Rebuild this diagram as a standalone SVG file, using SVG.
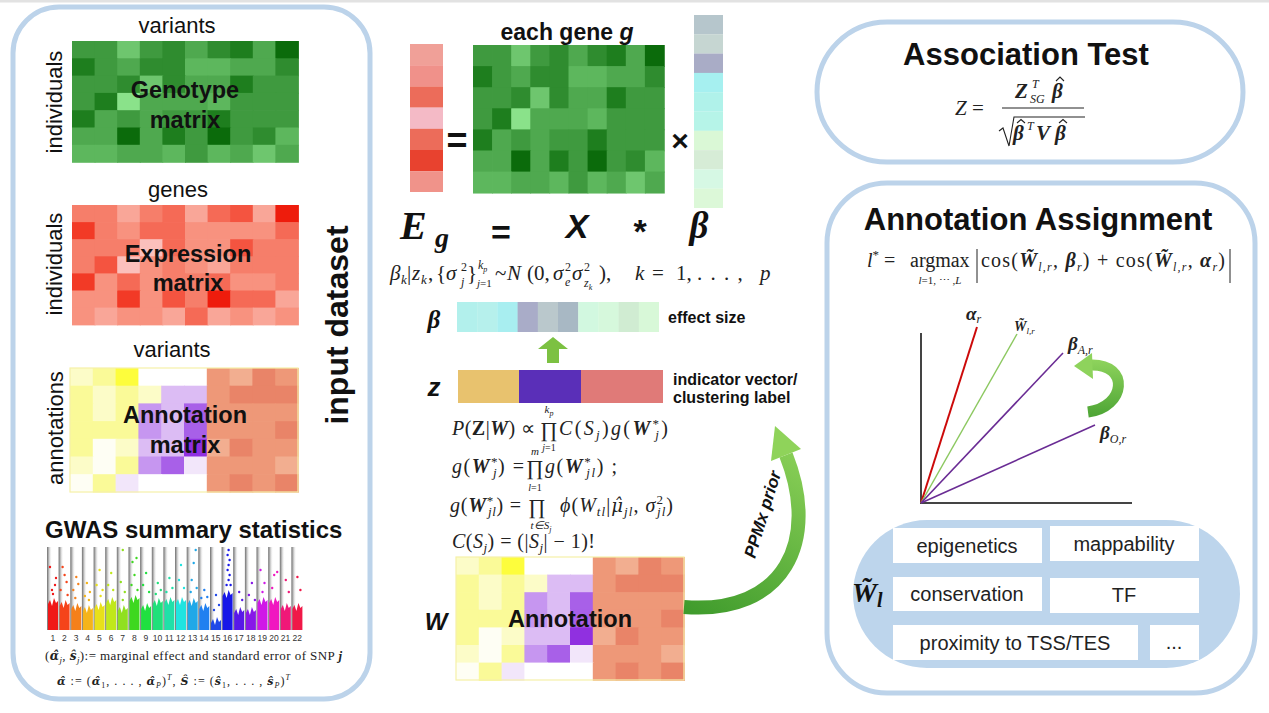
<svg xmlns="http://www.w3.org/2000/svg" width="1269" height="713" viewBox="0 0 1269 713">
<style>
.sans{font-family:'Liberation Sans',Arial,sans-serif}
.ser{font-family:'Liberation Serif','Times New Roman',serif}
.dj{font-family:'DejaVu Serif',serif}
.b{font-weight:bold}
.it{font-style:italic}
.panel{fill:none;stroke:#bcd3ea;stroke-width:5}
.c{width:1.04px;height:1.04px}
.g1{fill:#0b6b0b}.g2{fill:#1e7e1e}.g3{fill:#2f8c2f}.g4{fill:#3f9a3f}.g5{fill:#4fa94f}.g6{fill:#5db75d}.g7{fill:#6ec66e}.g8{fill:#8ae28a}
.r1{fill:#ee1c0c}.r2{fill:#f23a26}.r3{fill:#f45440}.r4{fill:#f56a56}.r5{fill:#f67e6a}.r6{fill:#f8927f}.r7{fill:#f9a698}.r8{fill:#fbc0bc}
.y0{fill:#fefef4}.y1{fill:#fcfcc8}.y2{fill:#fafa98}.y3{fill:#fdfd3c}
.p0{fill:#ffffff}.p1{fill:#f2e6fa}.p2{fill:#dcbcf4}.p3{fill:#c696f0}.p4{fill:#a860e8}.p5{fill:#9030e0}
.s1{fill:#f2ae90}.s2{fill:#ee9878}.s3{fill:#e98468}
.lbl{font-family:'Liberation Sans',Arial,sans-serif;font-size:22px;fill:#111}
.mat{font-family:'Liberation Sans',Arial,sans-serif;font-size:23.5px;font-weight:bold;fill:#111;text-anchor:middle}
.wb{fill:#ffffff}
.wt{font-family:'Liberation Sans',Arial,sans-serif;font-size:20px;fill:#222;text-anchor:middle}
.sep{fill:url(#sepg)}
.hat{fill:none;stroke:#222;stroke-width:1.1}
</style>
<defs>
<linearGradient id="sepg" x1="0" y1="0" x2="1" y2="0"><stop offset="0" stop-color="#6e6e6e"/><stop offset="0.35" stop-color="#b8b8b8"/><stop offset="1" stop-color="#ffffff" stop-opacity="0"/></linearGradient>
<linearGradient id="ppmx" gradientUnits="userSpaceOnUse" x1="684" y1="610" x2="790" y2="430"><stop offset="0" stop-color="#3f9b2c"/><stop offset="1" stop-color="#8fd35a"/></linearGradient>
<linearGradient id="rarr" gradientUnits="userSpaceOnUse" x1="1080" y1="415" x2="1080" y2="360"><stop offset="0" stop-color="#4fa636"/><stop offset="1" stop-color="#8ed35c"/></linearGradient>
<g id="geno">
<rect class="c g4" x="0" y="0"/><rect class="c g4" x="1" y="0"/><rect class="c g7" x="2" y="0"/><rect class="c g4" x="3" y="0"/><rect class="c g3" x="4" y="0"/><rect class="c g5" x="5" y="0"/><rect class="c g3" x="6" y="0"/><rect class="c g2" x="7" y="0"/><rect class="c g5" x="8" y="0"/><rect class="c g1" x="9" y="0"/>
<rect class="c g2" x="0" y="1"/><rect class="c g4" x="1" y="1"/><rect class="c g5" x="2" y="1"/><rect class="c g3" x="3" y="1"/><rect class="c g3" x="4" y="1"/><rect class="c g6" x="5" y="1"/><rect class="c g6" x="6" y="1"/><rect class="c g5" x="7" y="1"/><rect class="c g5" x="8" y="1"/><rect class="c g3" x="9" y="1"/>
<rect class="c g4" x="0" y="2"/><rect class="c g4" x="1" y="2"/><rect class="c g3" x="2" y="2"/><rect class="c g7" x="3" y="2"/><rect class="c g3" x="4" y="2"/><rect class="c g5" x="5" y="2"/><rect class="c g5" x="6" y="2"/><rect class="c g2" x="7" y="2"/><rect class="c g4" x="8" y="2"/><rect class="c g4" x="9" y="2"/>
<rect class="c g4" x="0" y="3"/><rect class="c g2" x="1" y="3"/><rect class="c g8" x="2" y="3"/><rect class="c g5" x="3" y="3"/><rect class="c g5" x="4" y="3"/><rect class="c g5" x="5" y="3"/><rect class="c g6" x="6" y="3"/><rect class="c g4" x="7" y="3"/><rect class="c g4" x="8" y="3"/><rect class="c g4" x="9" y="3"/>
<rect class="c g2" x="0" y="4"/><rect class="c g5" x="1" y="4"/><rect class="c g4" x="2" y="4"/><rect class="c g5" x="3" y="4"/><rect class="c g4" x="4" y="4"/><rect class="c g4" x="5" y="4"/><rect class="c g2" x="6" y="4"/><rect class="c g4" x="7" y="4"/><rect class="c g4" x="8" y="4"/><rect class="c g4" x="9" y="4"/>
<rect class="c g5" x="0" y="5"/><rect class="c g5" x="1" y="5"/><rect class="c g1" x="2" y="5"/><rect class="c g5" x="3" y="5"/><rect class="c g2" x="4" y="5"/><rect class="c g4" x="5" y="5"/><rect class="c g1" x="6" y="5"/><rect class="c g4" x="7" y="5"/><rect class="c g3" x="8" y="5"/><rect class="c g6" x="9" y="5"/>
<rect class="c g6" x="0" y="6"/><rect class="c g6" x="1" y="6"/><rect class="c g5" x="2" y="6"/><rect class="c g5" x="3" y="6"/><rect class="c g6" x="4" y="6"/><rect class="c g4" x="5" y="6"/><rect class="c g6" x="6" y="6"/><rect class="c g5" x="7" y="6"/><rect class="c g7" x="8" y="6"/><rect class="c g5" x="9" y="6"/>
</g>
<g id="expr">
<rect class="c r5" x="0" y="0"/><rect class="c r5" x="1" y="0"/><rect class="c r7" x="2" y="0"/><rect class="c r5" x="3" y="0"/><rect class="c r4" x="4" y="0"/><rect class="c r7" x="5" y="0"/><rect class="c r4" x="6" y="0"/><rect class="c r3" x="7" y="0"/><rect class="c r7" x="8" y="0"/><rect class="c r1" x="9" y="0"/>
<rect class="c r2" x="0" y="1"/><rect class="c r5" x="1" y="1"/><rect class="c r6" x="2" y="1"/><rect class="c r4" x="3" y="1"/><rect class="c r4" x="4" y="1"/><rect class="c r6" x="5" y="1"/><rect class="c r6" x="6" y="1"/><rect class="c r6" x="7" y="1"/><rect class="c r6" x="8" y="1"/><rect class="c r4" x="9" y="1"/>
<rect class="c r5" x="0" y="2"/><rect class="c r5" x="1" y="2"/><rect class="c r5" x="2" y="2"/><rect class="c r8" x="3" y="2"/><rect class="c r4" x="4" y="2"/><rect class="c r6" x="5" y="2"/><rect class="c r6" x="6" y="2"/><rect class="c r3" x="7" y="2"/><rect class="c r5" x="8" y="2"/><rect class="c r5" x="9" y="2"/>
<rect class="c r5" x="0" y="3"/><rect class="c r3" x="1" y="3"/><rect class="c r8" x="2" y="3"/><rect class="c r6" x="3" y="3"/><rect class="c r5" x="4" y="3"/><rect class="c r6" x="5" y="3"/><rect class="c r7" x="6" y="3"/><rect class="c r5" x="7" y="3"/><rect class="c r5" x="8" y="3"/><rect class="c r5" x="9" y="3"/>
<rect class="c r2" x="0" y="4"/><rect class="c r6" x="1" y="4"/><rect class="c r4" x="2" y="4"/><rect class="c r6" x="3" y="4"/><rect class="c r5" x="4" y="4"/><rect class="c r5" x="5" y="4"/><rect class="c r4" x="6" y="4"/><rect class="c r6" x="7" y="4"/><rect class="c r6" x="8" y="4"/><rect class="c r5" x="9" y="4"/>
<rect class="c r6" x="0" y="5"/><rect class="c r6" x="1" y="5"/><rect class="c r2" x="2" y="5"/><rect class="c r6" x="3" y="5"/><rect class="c r3" x="4" y="5"/><rect class="c r5" x="5" y="5"/><rect class="c r1" x="6" y="5"/><rect class="c r4" x="7" y="5"/><rect class="c r4" x="8" y="5"/><rect class="c r7" x="9" y="5"/>
<rect class="c r6" x="0" y="6"/><rect class="c r7" x="1" y="6"/><rect class="c r6" x="2" y="6"/><rect class="c r6" x="3" y="6"/><rect class="c r7" x="4" y="6"/><rect class="c r4" x="5" y="6"/><rect class="c r7" x="6" y="6"/><rect class="c r6" x="7" y="6"/><rect class="c r7" x="8" y="6"/><rect class="c r6" x="9" y="6"/>
</g>
<g id="annot">
<rect class="c y1" x="0" y="0"/><rect class="c y2" x="1" y="0"/><rect class="c y3" x="2" y="0"/><rect class="c p0" x="3" y="0"/><rect class="c p0" x="4" y="0"/><rect class="c p0" x="5" y="0"/><rect class="c s2" x="6" y="0"/><rect class="c s1" x="7" y="0"/><rect class="c s3" x="8" y="0"/><rect class="c s2" x="9" y="0"/>
<rect class="c y2" x="0" y="1"/><rect class="c y1" x="1" y="1"/><rect class="c y2" x="2" y="1"/><rect class="c y1" x="3" y="1"/><rect class="c p2" x="4" y="1"/><rect class="c p2" x="5" y="1"/><rect class="c s2" x="6" y="1"/><rect class="c s3" x="7" y="1"/><rect class="c s3" x="8" y="1"/><rect class="c s3" x="9" y="1"/>
<rect class="c y2" x="0" y="2"/><rect class="c y1" x="1" y="2"/><rect class="c y2" x="2" y="2"/><rect class="c p3" x="3" y="2"/><rect class="c p2" x="4" y="2"/><rect class="c p4" x="5" y="2"/><rect class="c s2" x="6" y="2"/><rect class="c s2" x="7" y="2"/><rect class="c s2" x="8" y="2"/><rect class="c s2" x="9" y="2"/>
<rect class="c y2" x="0" y="3"/><rect class="c y2" x="1" y="3"/><rect class="c y2" x="2" y="3"/><rect class="c p3" x="3" y="3"/><rect class="c p2" x="4" y="3"/><rect class="c p4" x="5" y="3"/><rect class="c s2" x="6" y="3"/><rect class="c s2" x="7" y="3"/><rect class="c s2" x="8" y="3"/><rect class="c s3" x="9" y="3"/>
<rect class="c y2" x="0" y="4"/><rect class="c y0" x="1" y="4"/><rect class="c y1" x="2" y="4"/><rect class="c p2" x="3" y="4"/><rect class="c p2" x="4" y="4"/><rect class="c p5" x="5" y="4"/><rect class="c s1" x="6" y="4"/><rect class="c s3" x="7" y="4"/><rect class="c s2" x="8" y="4"/><rect class="c s2" x="9" y="4"/>
<rect class="c y1" x="0" y="5"/><rect class="c y0" x="1" y="5"/><rect class="c y2" x="2" y="5"/><rect class="c p3" x="3" y="5"/><rect class="c p4" x="4" y="5"/><rect class="c p1" x="5" y="5"/><rect class="c s2" x="6" y="5"/><rect class="c s2" x="7" y="5"/><rect class="c s2" x="8" y="5"/><rect class="c s1" x="9" y="5"/>
<rect class="c y0" x="0" y="6"/><rect class="c y2" x="1" y="6"/><rect class="c p1" x="2" y="6"/><rect class="c p0" x="3" y="6"/><rect class="c p0" x="4" y="6"/><rect class="c p0" x="5" y="6"/><rect class="c s2" x="6" y="6"/><rect class="c s3" x="7" y="6"/><rect class="c s2" x="8" y="6"/><rect class="c s3" x="9" y="6"/>
</g>
</defs>

<rect x="0" y="0" width="1269" height="713" fill="#ffffff"/>
<rect x="0" y="0" width="1269" height="2.5" fill="#e2e2e2"/>

<!-- LEFT PANEL: input dataset -->
<g id="input-dataset">
<rect class="panel" x="13" y="7" width="357" height="692" rx="46"/>
<text class="sans b" x="348" y="325" font-size="32" text-anchor="middle" transform="rotate(-90 348 325)" fill="#111">input dataset</text>
</g>

<g id="genotype-matrix">
<text class="lbl" x="177" y="33" text-anchor="middle">variants</text>
<text class="lbl" x="62" y="102" text-anchor="middle" transform="rotate(-90 62 102)">individuals</text>
<use href="#geno" transform="translate(72,41) scale(22.6,17.3)"/>
<text class="mat" x="185" y="98">Genotype</text>
<text class="mat" x="185" y="128">matrix</text>
</g>

<g id="expression-matrix">
<text class="lbl" x="178" y="197" text-anchor="middle">genes</text>
<text class="lbl" x="62" y="264" text-anchor="middle" transform="rotate(-90 62 264)">individuals</text>
<use href="#expr" transform="translate(72,205) scale(22.6,17.1)"/>
<text class="mat" x="188" y="262">Expression</text>
<text class="mat" x="188" y="291">matrix</text>
</g>

<g id="annotation-matrix">
<text class="lbl" x="172" y="357" text-anchor="middle">variants</text>
<text class="lbl" x="63" y="428" text-anchor="middle" transform="rotate(-90 63 428)">annotations</text>
<use href="#annot" transform="translate(70,368) scale(22.8,17.7)"/>
<rect x="70" y="368" width="228" height="124" fill="none" stroke="#f6f0a8" stroke-width="1.2"/>
<text class="mat" x="185" y="423">Annotation</text>
<text class="mat" x="185" y="453">matrix</text>
</g>

<g id="gwas">
<text class="sans b" x="45" y="538" font-size="24" fill="#111">GWAS summary statistics</text>
<g id="manhattan">
<rect class="sep" x="47" y="547" width="5" height="83"/><rect class="sep" x="58.6" y="547" width="5" height="83"/><rect class="sep" x="70.3" y="547" width="5" height="83"/><rect class="sep" x="81.9" y="547" width="5" height="83"/><rect class="sep" x="93.6" y="547" width="5" height="83"/><rect class="sep" x="105.2" y="547" width="5" height="83"/><rect class="sep" x="116.8" y="547" width="5" height="83"/><rect class="sep" x="128.5" y="547" width="5" height="83"/><rect class="sep" x="140.1" y="547" width="5" height="83"/><rect class="sep" x="151.8" y="547" width="5" height="83"/><rect class="sep" x="163.4" y="547" width="5" height="83"/><rect class="sep" x="175" y="547" width="5" height="83"/><rect class="sep" x="186.7" y="547" width="5" height="83"/><rect class="sep" x="198.3" y="547" width="5" height="83"/><rect class="sep" x="210" y="547" width="5" height="83"/><rect class="sep" x="221.6" y="547" width="5" height="83"/><rect class="sep" x="233.2" y="547" width="5" height="83"/><rect class="sep" x="244.9" y="547" width="5" height="83"/><rect class="sep" x="256.5" y="547" width="5" height="83"/><rect class="sep" x="268.2" y="547" width="5" height="83"/><rect class="sep" x="279.8" y="547" width="5" height="83"/><rect class="sep" x="291.4" y="547" width="5" height="83"/>
<g fill="#f01818"><polygon points="48,630 48,604 50,600 52,606 54,598 56,603 58,601 58,630"/><circle cx="50" cy="567" r="1.2"/><circle cx="55" cy="585" r="1.2"/><circle cx="52" cy="590" r="1.2"/><circle cx="56" cy="578" r="1.2"/><circle cx="53" cy="594" r="1.2"/></g>
<g fill="#f5441a"><polygon points="59.6,630 59.6,606 61.6,602 63.6,608 65.6,600 67.6,605 69.6,603 69.6,630"/><circle cx="62.6" cy="567" r="1.2"/><circle cx="66.6" cy="582" r="1.2"/><circle cx="60.6" cy="590" r="1.2"/><circle cx="64.6" cy="575" r="1.2"/><circle cx="67.6" cy="595" r="1.2"/></g>
<g fill="#f5801a"><polygon points="71.3,630 71.3,609 73.3,605 75.3,611 77.3,603 79.3,608 81.3,606 81.3,630"/><circle cx="76.3" cy="577" r="1.2"/><circle cx="73.3" cy="590" r="1.2"/><circle cx="78.3" cy="584" r="1.2"/><circle cx="75.3" cy="598" r="1.2"/></g>
<g fill="#f5b41a"><polygon points="82.9,630 82.9,611 84.9,607 86.9,613 88.9,605 90.9,610 92.9,608 92.9,630"/><circle cx="86.9" cy="583" r="1.2"/><circle cx="89.9" cy="592" r="1.2"/><circle cx="84.9" cy="596" r="1.2"/><circle cx="88.9" cy="600" r="1.2"/></g>
<g fill="#e8e01a"><polygon points="94.6,630 94.6,608 96.6,604 98.6,610 100.6,602 102.6,607 104.6,605 104.6,630"/><circle cx="99.6" cy="570" r="1.2"/><circle cx="96.6" cy="585" r="1.2"/><circle cx="102.6" cy="590" r="1.2"/><circle cx="100.6" cy="596" r="1.2"/></g>
<g fill="#c0e81a"><polygon points="106.2,630 106.2,603 108.2,599 110.2,605 112.2,597 114.2,602 116.2,600 116.2,630"/><circle cx="111.2" cy="573" r="1.2"/><circle cx="108.2" cy="585" r="1.2"/><circle cx="113.2" cy="590" r="1.2"/></g>
<g fill="#90e020"><polygon points="117.8,630 117.8,611 119.8,607 121.8,613 123.8,605 125.8,610 127.8,608 127.8,630"/><circle cx="122.8" cy="550" r="1.2"/><circle cx="120.8" cy="582" r="1.2"/><circle cx="124.8" cy="592" r="1.2"/><circle cx="122.8" cy="600" r="1.2"/></g>
<g fill="#3ed820"><polygon points="129.5,630 129.5,601 131.5,597 133.5,603 135.5,595 137.5,600 139.5,598 139.5,630"/><circle cx="136.5" cy="558" r="1.2"/><circle cx="132.5" cy="562" r="1.2"/><circle cx="134.5" cy="575" r="1.2"/><circle cx="131.5" cy="585" r="1.2"/><circle cx="137.5" cy="590" r="1.2"/></g>
<g fill="#20e040"><polygon points="141.1,630 141.1,609 143.1,605 145.1,611 147.1,603 149.1,608 151.1,606 151.1,630"/><circle cx="146.1" cy="573" r="1.2"/><circle cx="143.1" cy="585" r="1.2"/><circle cx="149.1" cy="592" r="1.2"/></g>
<g fill="#20e07a"><polygon points="152.8,630 152.8,604 154.8,600 156.8,606 158.8,598 160.8,603 162.8,601 162.8,630"/><circle cx="157.8" cy="583" r="1.2"/><circle cx="160.8" cy="590" r="1.2"/><circle cx="155.8" cy="594" r="1.2"/></g>
<g fill="#20e0a8"><polygon points="164.4,630 164.4,603 166.4,599 168.4,605 170.4,597 172.4,602 174.4,600 174.4,630"/><circle cx="169.4" cy="578" r="1.2"/><circle cx="172.4" cy="588" r="1.2"/><circle cx="166.4" cy="592" r="1.2"/></g>
<g fill="#20e4e0"><polygon points="176,630 176,603 178,599 180,605 182,597 184,602 186,600 186,630"/><circle cx="181" cy="565" r="1.2"/><circle cx="179" cy="580" r="1.2"/><circle cx="184" cy="588" r="1.2"/></g>
<g fill="#20a8e8"><polygon points="187.7,630 187.7,604 189.7,600 191.7,606 193.7,598 195.7,603 197.7,601 197.7,630"/><circle cx="195.7" cy="550" r="1.2"/><circle cx="193.7" cy="563" r="1.2"/><circle cx="191.7" cy="580" r="1.2"/><circle cx="196.7" cy="588" r="1.2"/><circle cx="190.7" cy="592" r="1.2"/></g>
<g fill="#2080f0"><polygon points="199.3,630 199.3,609 201.3,605 203.3,611 205.3,603 207.3,608 209.3,606 209.3,630"/><circle cx="204.3" cy="590" r="1.2"/><circle cx="207.3" cy="597" r="1.2"/><circle cx="201.3" cy="598" r="1.2"/></g>
<g fill="#2048e8"><polygon points="211,630 211,623 213,619 215,625 217,617 219,622 221,620 221,630"/><circle cx="216" cy="595" r="1.2"/><circle cx="219" cy="605" r="1.2"/><circle cx="214" cy="610" r="1.2"/></g>
<g fill="#1818e8"><polygon points="222.6,630 222.6,596 224.6,592 226.6,598 228.6,590 230.6,595 232.6,593 232.6,630"/><circle cx="228.6" cy="550" r="1.2"/><circle cx="227.6" cy="555" r="1.2"/><circle cx="229.6" cy="560" r="1.2"/><circle cx="228.6" cy="565" r="1.2"/><circle cx="227.6" cy="570" r="1.2"/><circle cx="229.6" cy="575" r="1.2"/><circle cx="228.6" cy="580" r="1.2"/><circle cx="226.6" cy="585" r="1.2"/><circle cx="230.6" cy="585" r="1.2"/></g>
<g fill="#5818e8"><polygon points="234.2,630 234.2,613 236.2,609 238.2,615 240.2,607 242.2,612 244.2,610 244.2,630"/><circle cx="239.2" cy="592" r="1.2"/><circle cx="242.2" cy="600" r="1.2"/></g>
<g fill="#8818e8"><polygon points="245.9,630 245.9,613 247.9,609 249.9,615 251.9,607 253.9,612 255.9,610 255.9,630"/><circle cx="251.9" cy="583" r="1.2"/><circle cx="248.9" cy="595" r="1.2"/><circle cx="254.9" cy="600" r="1.2"/></g>
<g fill="#d018e8"><polygon points="257.5,630 257.5,603 259.5,599 261.5,605 263.5,597 265.5,602 267.5,600 267.5,630"/><circle cx="260.5" cy="570" r="1.2"/><circle cx="264.5" cy="583" r="1.2"/><circle cx="262.5" cy="592" r="1.2"/></g>
<g fill="#f018c0"><polygon points="269.2,630 269.2,603 271.2,599 273.2,605 275.2,597 277.2,602 279.2,600 279.2,630"/><circle cx="274.2" cy="575" r="1.2"/><circle cx="277.2" cy="572" r="1.2"/><circle cx="272.2" cy="588" r="1.2"/></g>
<g fill="#f01878"><polygon points="280.8,630 280.8,609 282.8,605 284.8,611 286.8,603 288.8,608 290.8,606 290.8,630"/><circle cx="285.8" cy="580" r="1.2"/><circle cx="288.8" cy="592" r="1.2"/></g>
<g fill="#f01848"><polygon points="292.4,630 292.4,609 294.4,605 296.4,611 298.4,603 300.4,608 302.4,606 302.4,630"/><circle cx="297.4" cy="577" r="1.2"/><circle cx="300.4" cy="590" r="1.2"/></g>
<g class="sans" font-size="8.5" fill="#333" text-anchor="middle">
<text x="52.8" y="641">1</text><text x="64.4" y="641">2</text><text x="76.1" y="641">3</text><text x="87.7" y="641">4</text><text x="99.4" y="641">5</text><text x="111" y="641">6</text><text x="122.6" y="641">7</text><text x="134.3" y="641">8</text><text x="145.9" y="641">9</text><text x="157.6" y="641">10</text><text x="169.2" y="641">11</text><text x="180.8" y="641">12</text><text x="192.5" y="641">13</text><text x="204.1" y="641">14</text><text x="215.8" y="641">15</text><text x="227.4" y="641">16</text><text x="239" y="641">17</text><text x="250.7" y="641">18</text><text x="262.3" y="641">19</text><text x="274" y="641">20</text><text x="285.6" y="641">21</text><text x="297.2" y="641">22</text>
</g>
</g>
<text class="ser" x="45" y="660" font-size="13" fill="#222" textLength="297" lengthAdjust="spacing">(<tspan class="dj b it" font-size="12">α̂</tspan><tspan font-size="9" dy="3" class="it">j</tspan><tspan dy="-3">, </tspan><tspan class="dj b it" font-size="12">ŝ</tspan><tspan font-size="9" dy="3" class="it">j</tspan><tspan dy="-3">):= marginal effect and standard error of SNP </tspan><tspan class="b it">j</tspan></text>
<text class="ser" x="57" y="685" font-size="12" fill="#222" textLength="233" lengthAdjust="spacing"><tspan class="dj b it" font-size="11">α̂</tspan> := (<tspan class="dj b it" font-size="11">α̂</tspan><tspan font-size="8" dy="3">1</tspan><tspan dy="-3">, . . . , </tspan><tspan class="dj b it" font-size="11">α̂</tspan><tspan font-size="8" dy="3" class="it">P</tspan><tspan dy="-3">)</tspan><tspan font-size="8" dy="-5" class="it">T</tspan><tspan dy="5">,  </tspan><tspan class="dj b it" font-size="11">Ŝ</tspan> := (<tspan class="dj b it" font-size="11">ŝ</tspan><tspan font-size="8" dy="3">1</tspan><tspan dy="-3">, . . . , </tspan><tspan class="dj b it" font-size="11">ŝ</tspan><tspan font-size="8" dy="3" class="it">P</tspan><tspan dy="-3">)</tspan><tspan font-size="8" dy="-5" class="it">T</tspan></text>
</g>

<!-- MIDDLE: model -->
<g id="expression-vector">
<rect x="410" y="44" width="33" height="21.3" fill="#f0a098"/>
<rect x="410" y="65.2" width="33" height="21.3" fill="#f0918a"/>
<rect x="410" y="86.4" width="33" height="21.3" fill="#ec6c5a"/>
<rect x="410" y="107.6" width="33" height="21.3" fill="#f4bac6"/>
<rect x="410" y="128.8" width="33" height="21.3" fill="#ec6c5a"/>
<rect x="410" y="150" width="33" height="21.3" fill="#e8422f"/>
<rect x="410" y="171.2" width="33" height="20.8" fill="#f0938a"/>
</g>
<g id="genotype-X">
<text class="sans b" x="567" y="40" font-size="23" text-anchor="middle" fill="#111">each gene <tspan class="it">g</tspan></text>
<use href="#geno" transform="translate(473,45) scale(19.1,21.1)"/>
</g>
<g id="effect-vector">
<rect x="694" y="15" width="29" height="19.4" fill="#b6c6cc"/>
<rect x="694" y="34.3" width="29" height="19.4" fill="#c6d6d2"/>
<rect x="694" y="53.6" width="29" height="19.4" fill="#a9acc6"/>
<rect x="694" y="72.9" width="29" height="19.4" fill="#a6f0f0"/>
<rect x="694" y="92.2" width="29" height="19.4" fill="#b0f2ea"/>
<rect x="694" y="111.5" width="29" height="19.4" fill="#b6f4e8"/>
<rect x="694" y="130.8" width="29" height="19.4" fill="#daf8d6"/>
<rect x="694" y="150.1" width="29" height="19.4" fill="#d6ecd6"/>
<rect x="694" y="169.4" width="29" height="19.4" fill="#d6f8e4"/>
<rect x="694" y="188.7" width="29" height="19.3" fill="#dcf8d8"/>
</g>
<g id="equation">
<text class="sans b" x="457" y="153" font-size="36" text-anchor="middle" fill="#111">=</text>
<text class="sans b" x="680" y="151" font-size="30" text-anchor="middle" fill="#111">×</text>
<text class="ser b it" x="400" y="239" font-size="40" fill="#111">E</text>
<text class="ser b it" x="435" y="247" font-size="28" fill="#111">g</text>
<text class="sans b" x="501" y="244" font-size="34" text-anchor="middle" fill="#111">=</text>
<text class="sans b it" x="577" y="238" font-size="34" text-anchor="middle" fill="#111">X</text>
<text class="sans b" x="640" y="243" font-size="34" text-anchor="middle" fill="#111">*</text>
<text class="ser b it" x="699" y="238" font-size="37" text-anchor="middle" fill="#111">β</text>
<g class="ser" fill="#222" font-size="21">
<text x="390" y="280" class="it">β</text>
<text x="401" y="284" font-size="13" class="it">k</text>
<text x="407" y="280">|</text><text x="412" y="280" class="it">z</text>
<text x="421" y="284" font-size="13" class="it">k</text>
<text x="428" y="280">,</text>
<text x="436" y="280">{</text>
<text x="446" y="280" class="it">σ</text>
<text x="461" y="271" font-size="12">2</text><text x="461" y="286" font-size="12" class="it">j</text>
<text x="467" y="280">}</text>
<text x="478" y="269" font-size="12" class="it">k<tspan font-size="8" dy="3">p</tspan></text>
<text x="477" y="287" font-size="11"><tspan class="it">j</tspan>=1</text>
<text x="495" y="280">~</text>
<text x="507" y="280" class="it">N</text>
<text x="527" y="280">(0,</text>
<text x="553" y="280" class="it">σ</text>
<text x="565" y="271" font-size="12">2</text><text x="565" y="286" font-size="12" class="it">e</text>
<text x="572" y="280" class="it">σ</text>
<text x="584" y="271" font-size="12">2</text><text x="584" y="287" font-size="12" class="it">z<tspan font-size="8" dy="3">k</tspan></text>
<text x="599" y="280">),</text>
<text x="635" y="280" class="it">k</text>
<text x="652" y="280">=</text>
<text x="676" y="280">1,</text>
<text x="697" y="280" letter-spacing="1.5">. . . ,</text>
<text x="760" y="280" class="it">p</text>
</g>
</g>

<g id="beta-bar">
<text class="ser b it" x="434" y="328" font-size="25" text-anchor="middle" fill="#111">β</text>
<rect x="457" y="302" width="20.5" height="30" fill="#b2f0ec"/>
<rect x="477.2" y="302" width="20.5" height="30" fill="#b6f0ec"/>
<rect x="497.4" y="302" width="20.5" height="30" fill="#a8eef0"/>
<rect x="517.6" y="302" width="20.5" height="30" fill="#a9acc8"/>
<rect x="537.8" y="302" width="20.5" height="30" fill="#bac8cc"/>
<rect x="558" y="302" width="20.5" height="30" fill="#a8b8c4"/>
<rect x="578.2" y="302" width="20.5" height="30" fill="#d2f8e0"/>
<rect x="598.4" y="302" width="20.5" height="30" fill="#d6f8dc"/>
<rect x="618.6" y="302" width="20.5" height="30" fill="#d0ecd2"/>
<rect x="638.8" y="302" width="20.2" height="30" fill="#d8f8d8"/>
<text class="sans b" x="668" y="323" font-size="16" fill="#111">effect size</text>
</g>

<g id="z-bar">
<text class="sans b it" x="434" y="396" font-size="26" text-anchor="middle" fill="#111">z</text>
<rect x="458" y="370" width="61.5" height="33" fill="#e8c26e"/>
<rect x="519" y="370" width="62.5" height="33" fill="#5a2fb8"/>
<rect x="581" y="370" width="82" height="33" fill="#e07a78"/>
<text class="sans b" x="673" y="385" font-size="16" fill="#111">indicator vector/</text>
<text class="sans b" x="673" y="403" font-size="16" fill="#111">clustering label</text>
</g>

<g id="ppmx-formulas" class="ser" fill="#222" font-size="20">
<text x="452" y="435" textLength="83" lengthAdjust="spacing"><tspan class="it">P</tspan>(<tspan font-weight="bold">Z</tspan>|<tspan class="b it">W</tspan>) ∝</text>
<text x="549" y="437" font-size="21" text-anchor="middle">∏</text>
<text x="549" y="413" font-size="11" text-anchor="middle" class="it">k<tspan font-size="8" dy="3">p</tspan></text>
<text x="549" y="451" font-size="10" text-anchor="middle"><tspan class="it">j</tspan>=1</text>
<text x="559" y="435" textLength="109" lengthAdjust="spacing"><tspan class="it">C</tspan>(<tspan class="it">S</tspan><tspan class="it" font-size="13" dy="4">j</tspan><tspan dy="-4">)</tspan><tspan class="it">g</tspan>(<tspan class="b it">W</tspan><tspan font-size="13" dy="-7">*</tspan><tspan font-size="13" class="it" dx="-6" dy="11">j</tspan><tspan dy="-4">)</tspan></text>

<text x="452" y="473" textLength="72" lengthAdjust="spacing"><tspan class="it">g</tspan>(<tspan class="b it">W</tspan><tspan font-size="13" dy="-7">*</tspan><tspan font-size="13" class="it" dx="-6" dy="11">j</tspan><tspan dy="-4">) =</tspan></text>
<text x="535" y="475" font-size="21" text-anchor="middle">∏</text>
<text x="535" y="455" font-size="11" text-anchor="middle" class="it">m</text>
<text x="535" y="491" font-size="10" text-anchor="middle"><tspan class="it">l</tspan>=1</text>
<text x="545" y="473" textLength="72" lengthAdjust="spacing"><tspan class="it">g</tspan>(<tspan class="b it">W</tspan><tspan font-size="13" dy="-7">*</tspan><tspan font-size="13" class="it" dx="-6" dy="11">jl</tspan><tspan dy="-4">) ;</tspan></text>

<text x="450" y="512" textLength="71" lengthAdjust="spacing"><tspan class="it">g</tspan>(<tspan class="b it">W</tspan><tspan font-size="13" dy="-7">*</tspan><tspan font-size="13" class="it" dx="-6" dy="11">jl</tspan><tspan dy="-4">) =</tspan></text>
<text x="537" y="514" font-size="21" text-anchor="middle">∏</text>
<text x="541" y="529" font-size="11" text-anchor="middle" class="it">t∈S<tspan font-size="8" dy="3">j</tspan></text>
<text x="560" y="512" textLength="113" lengthAdjust="spacing"><tspan class="it">ϕ</tspan>(<tspan class="it">W</tspan><tspan font-size="13" class="it" dy="4">tl</tspan><tspan dy="-4">|</tspan><tspan class="dj it" font-size="18">μ̂</tspan><tspan font-size="13" class="it" dy="4">jl</tspan><tspan dy="-4">, </tspan><tspan class="it">σ</tspan><tspan font-size="13" dy="-8">2</tspan><tspan font-size="13" class="it" dx="-7" dy="12">jl</tspan><tspan dy="-4">)</tspan></text>

<text x="452" y="548" textLength="143" lengthAdjust="spacing"><tspan class="it">C</tspan>(<tspan class="it">S</tspan><tspan class="it" font-size="13" dy="4">j</tspan><tspan dy="-4">) = (|</tspan><tspan class="it">S</tspan><tspan class="it" font-size="13" dy="4">j</tspan><tspan dy="-4">| − 1)!</tspan></text>
</g>

<g id="annotation-W">
<text class="sans b it" x="436" y="630" font-size="24" text-anchor="middle" fill="#111">W</text>
<use href="#annot" transform="translate(456,557) scale(22.8,17.6)"/>
<rect x="456" y="557" width="228" height="123" fill="none" stroke="#f6f0a8" stroke-width="1.2"/>
<text class="mat" x="570" y="627">Annotation</text>
</g>

<!-- RIGHT: association test -->
<g id="association-test">
<rect class="panel" x="817" y="22" width="426" height="140" rx="70"/>
<text class="sans b" x="1026" y="65" font-size="31" text-anchor="middle" fill="#111">Association Test</text>
<g class="ser" fill="#222" font-size="21">
<text x="955" y="115"><tspan class="it">Z</tspan> =</text>
<text x="1015" y="98" class="b it">Z</text>
<text x="1032" y="88" font-size="12" class="it">T</text>
<text x="1030" y="103" font-size="12" class="it">SG</text>
<text x="1052" y="98" class="b it">β</text>
<path class="hat" d="M1056,81 L1060,77 L1064,81"/>
<line x1="1002" y1="108" x2="1084" y2="108" stroke="#222" stroke-width="1"/>
<path d="M999,131 L1003,128 L1009,146 L1014,117 L1085,117" fill="none" stroke="#222" stroke-width="1.1"/>
<text x="1013" y="140" class="b it">β</text>
<path class="hat" d="M1017,123 L1021,119.5 L1025,123"/>
<text x="1027" y="130" font-size="12" class="it">T</text>
<text x="1036" y="140" class="b it">V</text>
<text x="1055" y="140" class="b it">β</text>
<path class="hat" d="M1059,123 L1063,119.5 L1067,123"/>
</g>
</g>

<!-- RIGHT: annotation assignment -->
<g id="annotation-assignment">
<rect class="panel" x="827" y="183" width="428" height="510" rx="60"/>
<text class="sans b" x="1038" y="230" font-size="31" text-anchor="middle" fill="#111">Annotation Assignment</text>
<g class="ser" fill="#222" font-size="20">
<text x="867" y="267"><tspan class="it">l</tspan><tspan font-size="13" dy="-8">*</tspan><tspan dy="8"> = </tspan></text>
<text x="910" y="267">argmax</text>
<text x="940" y="284" font-size="11" text-anchor="middle"><tspan class="it">l</tspan>=1, ⋯ ,<tspan class="it">L</tspan></text>
<line x1="977" y1="249" x2="977" y2="283" stroke="#222" stroke-width="1"/>
<text x="981" y="267" textLength="244" lengthAdjust="spacing">cos(<tspan class="b it">W̃</tspan><tspan font-size="12" class="it" dy="4">l,r</tspan><tspan dy="-4">, </tspan><tspan class="b it">β</tspan><tspan font-size="12" class="it" dy="4">r</tspan><tspan dy="-4">) + cos(</tspan><tspan class="b it">W̃</tspan><tspan font-size="12" class="it" dy="4">l,r</tspan><tspan dy="-4">, </tspan><tspan class="b it">α</tspan><tspan font-size="12" class="it" dy="4">r</tspan><tspan dy="-4">)</tspan></text>
<line x1="1230" y1="249" x2="1230" y2="283" stroke="#222" stroke-width="1"/>
</g>
<g id="vector-plot">
<line x1="921" y1="333" x2="921" y2="503" stroke="#444" stroke-width="2"/>
<line x1="920" y1="503" x2="1132" y2="503" stroke="#444" stroke-width="2"/>
<line x1="921" y1="503" x2="977" y2="327" stroke="#cc0a0a" stroke-width="2"/>
<line x1="921" y1="503" x2="1017" y2="334" stroke="#8cc860" stroke-width="1.5"/>
<line x1="921" y1="503" x2="1063" y2="353" stroke="#6a2c94" stroke-width="1.6"/>
<line x1="921" y1="503" x2="1095" y2="425" stroke="#6a2c94" stroke-width="1.6"/>
<g class="ser" fill="#222">
<text x="966" y="320" font-size="19" class="b it">α<tspan font-size="12" dy="3" font-weight="normal">r</tspan></text>
<text x="1014" y="331" font-size="14" class="b it">W̃<tspan font-size="9" dy="3" font-weight="normal">l,r</tspan></text>
<text x="1068" y="350" font-size="19" class="b it">β<tspan font-size="12" dy="4" font-weight="normal">A,r</tspan></text>
<text x="1100" y="439" font-size="19" class="b it">β<tspan font-size="12" dy="4" font-weight="normal">O,r</tspan></text>
</g>
</g>
</g>

<g id="annotation-sources">
<rect x="853" y="520" width="387" height="148" rx="74" fill="#bdd5ec"/>
<text class="ser b it" x="852" y="602" font-size="28" fill="#111">W̃<tspan font-size="20" dy="5">l</tspan></text>
<rect class="wb" x="893" y="528" width="149" height="35"/>
<text class="wt" x="967" y="553">epigenetics</text>
<rect class="wb" x="1050" y="526" width="149" height="35"/>
<text class="wt" x="1124" y="551">mappability</text>
<rect class="wb" x="893" y="577" width="149" height="34"/>
<text class="wt" x="967" y="601">conservation</text>
<rect class="wb" x="1050" y="578" width="149" height="35"/>
<text class="wt" x="1124" y="602">TF</text>
<rect class="wb" x="893" y="625" width="245" height="35"/>
<text class="wt" x="1015" y="650">proximity to TSS/TES</text>
<rect class="wb" x="1150" y="625" width="49" height="35"/>
<text class="wt" x="1174" y="649">...</text>
</g>

<!-- CONNECTORS -->
<g id="connectors">
<polygon points="553,337 538,349 547,349 547,363 559,363 559,349 568,349" fill="#7cc142"/>
<path d="M684,607 C785,615 820,540 786,455" fill="none" stroke="url(#ppmx)" stroke-width="14"/>
<polygon points="775,426 801,449 771,461" fill="#8fd35a"/>
<text class="sans b it" x="768" y="516" font-size="17" text-anchor="middle" transform="rotate(-73 768 516)" fill="#111">PPMx prior</text>
<path d="M1088,412 C1126,407 1130,364 1091,365" fill="none" stroke="url(#rarr)" stroke-width="11"/>
<polygon points="1074,366 1092,353 1093,379" fill="#8ed35c"/>
</g>
</svg>
